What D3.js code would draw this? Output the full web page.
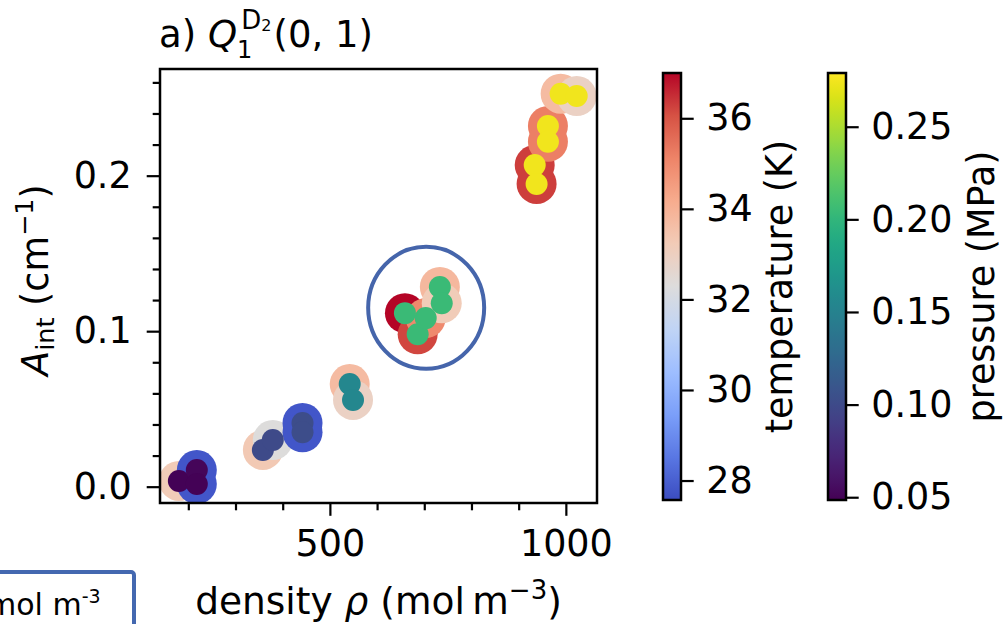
<!DOCTYPE html>
<html><head><meta charset="utf-8">
<script src="https://cdn.jsdelivr.net/npm/d3@7"></script>
<style>body{margin:0;background:#fff}svg{display:block}text{font-family:"DejaVu Sans",sans-serif;fill:#000}</style>
</head><body><svg id="c" width="1005" height="624"></svg>
<script>
// ---- data ----
const density     = [180, 218, 218, 358, 379, 442, 442, 542, 549, 659, 686, 703, 733, 737, 934, 938, 962, 962, 989, 1023];
const aint        = [0.0037, 0.0107, 0.0017, 0.0236, 0.0300, 0.0410, 0.0350, 0.0660, 0.0558, 0.1116, 0.0980, 0.1084, 0.1284, 0.1180, 0.2068, 0.1947, 0.2320, 0.2218, 0.2527, 0.2512];
const temperature = [33.2, 27.8, 27.8, 33.3, 32.3, 27.8, 27.8, 33.7, 32.9, 37.0, 36.2, 35.0, 33.8, 33.2, 36.3, 36.3, 35.2, 35.2, 33.7, 32.9];
const pressure    = [0.050, 0.052, 0.050, 0.100, 0.100, 0.102, 0.102, 0.155, 0.155, 0.205, 0.205, 0.205, 0.205, 0.205, 0.274, 0.274, 0.274, 0.274, 0.274, 0.274];
const xMajor = [500, 1000];
const xMinor = [200, 300, 400, 600, 700, 800, 900];
const yMajor = [0.0, 0.1, 0.2];
const yMinor = [0.02, 0.04, 0.06, 0.08, 0.12, 0.14, 0.16, 0.18, 0.22, 0.24, 0.26];
const tempTicks = [28, 30, 32, 34, 36];
const presTicks = [0.05, 0.10, 0.15, 0.20, 0.25];
const coolwarmStops = ["#3b4cc0","#5977e3","#7b9ff9","#9ebeff","#c0d4f5","#dddcdc","#f2cbb7","#f7ac8e","#ee8468","#d65244","#b40426"];

const svg = d3.select("#c");
const L = 160, R = 597, T = 69, B = 503;
const x = d3.scaleLinear().domain([140, 1066]).range([L, R]);
const y = d3.scaleLinear().domain([-0.0105, 0.2686]).range([B, T]);

const tDom = [27.57, 37.0], pDom = [0.0485, 0.279];
const cw = d3.scaleLinear().domain(d3.range(11).map(i => tDom[0] + i / 10 * (tDom[1] - tDom[0]))).range(coolwarmStops).interpolate(d3.interpolateRgb);
const vir = v => d3.interpolateViridis((v - pDom[0]) / (pDom[1] - pDom[0]));

const FS = 36.5;
function styleAxis(g) {
  g.select(".domain").remove();
  g.selectAll(".tick line").attr("stroke", "#000").attr("stroke-width", 2.2);
  g.selectAll(".tick text").attr("font-size", FS).attr("font-family", "DejaVu Sans");
}
svg.append("g").attr("transform", `translate(0,${B})`)
  .call(d3.axisBottom(x).tickValues(xMajor).tickSize(12.8).tickPadding(14).tickFormat(d3.format("d"))).call(styleAxis);
svg.append("g").attr("transform", `translate(0,${B})`)
  .call(d3.axisBottom(x).tickValues(xMinor).tickSize(7.3).tickFormat("")).call(styleAxis);
svg.append("g").attr("transform", `translate(${L},0)`)
  .call(d3.axisLeft(y).tickValues(yMajor).tickSize(13.3).tickPadding(15).tickFormat(d3.format(".1f"))).call(styleAxis);
svg.append("g").attr("transform", `translate(${L},0)`)
  .call(d3.axisLeft(y).tickValues(yMinor).tickSize(7.3).tickFormat("")).call(styleAxis);

// points: outer temperature circles, then inner pressure circles
const idx = d3.range(density.length);
svg.append("g").selectAll("circle").data(idx).join("circle")
  .attr("cx", i => x(density[i])).attr("cy", i => y(aint[i])).attr("r", 20)
  .attr("fill", i => cw(temperature[i]));
svg.append("g").selectAll("circle").data(idx).join("circle")
  .attr("cx", i => x(density[i])).attr("cy", i => y(aint[i])).attr("r", 11)
  .attr("fill", i => vir(pressure[i]));

// frame
svg.append("rect").attr("x", L).attr("y", T).attr("width", R - L).attr("height", B - T)
  .attr("fill", "none").attr("stroke", "#000").attr("stroke-width", 2.5);

// annotation ellipse
svg.append("ellipse").attr("cx", x(704)).attr("cy", y(0.115)).attr("rx", 58).attr("ry", 61)
  .attr("fill", "none").attr("stroke", "#4565ab").attr("stroke-width", 4);

// title  a) Q_1^{D_2}(0, 1)  as one text element
const tt = svg.append("text").attr("x", 159).attr("y", 47).attr("font-size", 37);
tt.append("tspan").text("a) ");
tt.append("tspan").attr("font-style", "italic").text("Q");
tt.append("tspan").attr("font-size", 24).attr("dy", 11).text("1");
tt.append("tspan").attr("font-size", 26).attr("dx", -11).attr("dy", -29).text("D");
tt.append("tspan").attr("font-size", 16).attr("dy", 2).text("2");
tt.append("tspan").attr("dx", 2).attr("dy", 16).text("(0, 1)");

// axis labels
const LF = 37.5;
const xl = svg.append("text").attr("x", (L + R) / 2).attr("y", 614).attr("text-anchor", "middle").attr("font-size", LF);
xl.append("tspan").text("density ");
xl.append("tspan").attr("font-style", "italic").text("ρ");
xl.append("tspan").text(" (mol\u2009m");
xl.append("tspan").attr("font-size", 26).attr("dy", -15).text("−3");
xl.append("tspan").attr("dy", 15).text(")");

const yl = svg.append("text").attr("transform", `translate(48,280) rotate(-90)`).attr("text-anchor", "middle").attr("font-size", FS);
yl.append("tspan").attr("font-style", "italic").text("A");
yl.append("tspan").attr("font-size", 25.5).attr("dy", 6).text("int");
yl.append("tspan").attr("dy", -6).text(" (cm");
yl.append("tspan").attr("font-size", 25.5).attr("dy", -15).text("−1");
yl.append("tspan").attr("dy", 15).text(")");

// colorbars
const defs = svg.append("defs");
function colorbar(id, x0, dom, colorFn, ticks, fmt, label, labelX) {
  const top = 73, bot = 500, w = 18;
  const grad = defs.append("linearGradient").attr("id", id).attr("x1", 0).attr("y1", 1).attr("x2", 0).attr("y2", 0);
  d3.range(0, 1.0001, 0.02).forEach(t => grad.append("stop").attr("offset", t).attr("stop-color", colorFn(dom[0] + t * (dom[1] - dom[0]))));
  svg.append("rect").attr("x", x0).attr("y", top).attr("width", w).attr("height", bot - top).attr("fill", `url(#${id})`)
    .attr("stroke", "#000").attr("stroke-width", 2.5);
  const s = d3.scaleLinear().domain(dom).range([bot, top]);
  const g = svg.append("g").attr("transform", `translate(${x0 + w},0)`)
    .call(d3.axisRight(s).tickValues(ticks).tickSize(12.7).tickPadding(12.5).tickFormat(fmt));
  g.select(".domain").remove();
  g.selectAll(".tick line").attr("stroke", "#000").attr("stroke-width", 2.2);
  g.selectAll(".tick text").attr("font-size", FS).attr("font-family", "DejaVu Sans");
  svg.append("text").attr("transform", `translate(${labelX},${(top + bot) / 2}) rotate(-90)`)
    .attr("text-anchor", "middle").attr("font-size", FS).text(label);
}
colorbar("gT", 663, tDom, cw, tempTicks, d3.format("d"), "temperature (K)", 792);
colorbar("gP", 828, pDom, vir, presTicks, d3.format(".2f"), "pressure (MPa)", 994);

// clipped box at lower left
svg.append("rect").attr("x", -10).attr("y", 572).attr("width", 144).attr("height", 80).attr("rx", 3)
  .attr("fill", "none").attr("stroke", "#4468b0").attr("stroke-width", 4);
const bt = svg.append("text").attr("x", -13).attr("y", 615).attr("font-family", "Liberation Sans").attr("font-size", 30);
bt.append("tspan").text("mol m");
bt.append("tspan").attr("font-size", 19).attr("dy", -12).text("-3");
</script></body></html>
